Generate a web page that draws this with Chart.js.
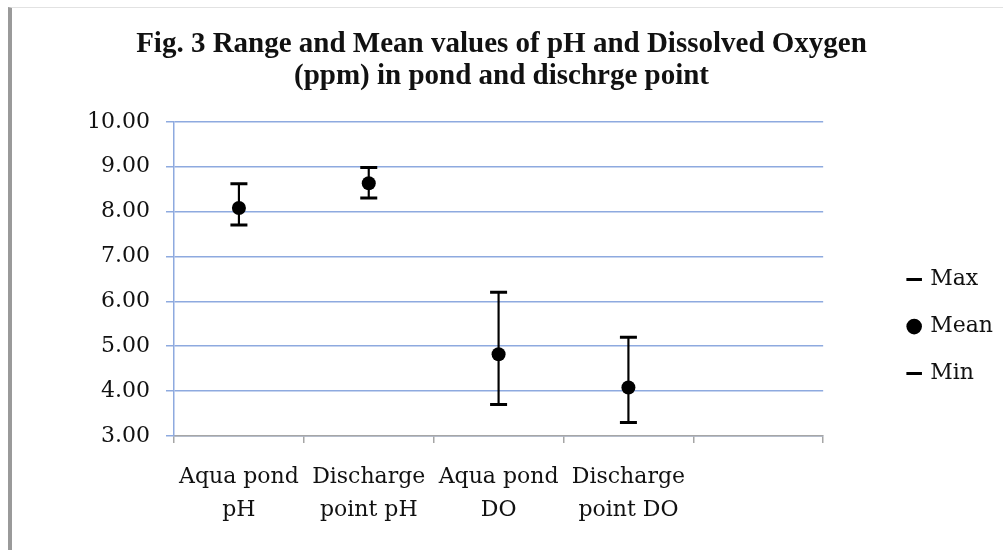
<!DOCTYPE html>
<html>
<head>
<meta charset="utf-8">
<title>Fig. 3 pH and DO</title>
<script src="https://cdn.jsdelivr.net/npm/chart.js@4.4.1/dist/chart.umd.min.js"></script>
<style>
  html, body { margin: 0; padding: 0; background: #fff; }
  #frame {
    position: absolute; left: 8px; top: 7px; width: 995px; height: 543px;
    border-left: 4px solid #9a9a9a; border-top: 1px solid #e2e2e2; box-sizing: border-box;
  }
  #wrap { position: absolute; left: 0; top: 0; width: 1003px; height: 550px; }
</style>
</head>
<body>
<div id="frame"></div>
<div id="wrap"><canvas id="chart" width="1003" height="550"></canvas></div>
<script>
// categories (last slot is empty in the original)
const categories = [['Aqua pond', 'pH'], ['Discharge', 'point pH'], ['Aqua pond', 'DO'], ['Discharge', 'point DO'], ''];
const maxVals = [8.62, 8.98, 6.2, 5.2];
const meanVals = [8.08, 8.63, 4.82, 4.08];
const minVals = [7.7, 8.3, 3.7, 3.3];
const yTicks = [3, 4, 5, 6, 7, 8, 9, 10];

const rangeVals = minVals.map((v, i) => [v, maxVals[i]]);

const serif = '"DejaVu Serif", "Liberation Serif", serif';
const gridBlue = '#8eaadf';

const ctx = document.getElementById('chart').getContext('2d');
const chart = new Chart(ctx, {
    data: {
        labels: categories,
        datasets: [
            { type: 'line', label: 'Max', data: maxVals, showLine: false, pointStyle: 'line',
              pointRadius: 8.5, pointBorderWidth: 3, pointBorderColor: '#000', pointBackgroundColor: '#000', order: 0 },
            { type: 'line', label: 'Mean', data: meanVals, showLine: false, pointStyle: 'circle',
              pointRadius: 7, pointBorderWidth: 0, pointBorderColor: '#000', pointBackgroundColor: '#000', order: 0 },
            { type: 'line', label: 'Min', data: minVals, showLine: false, pointStyle: 'line',
              pointRadius: 8.5, pointBorderWidth: 3, pointBorderColor: '#000', pointBackgroundColor: '#000', order: 0 },
            { type: 'bar', label: 'range', data: rangeVals, backgroundColor: '#000', borderWidth: 0,
              barThickness: 1.5, order: 1 }
        ]
    },
    options: {
        responsive: false,
        animation: false,
        layout: { padding: { left: 0, right: 0, top: 0, bottom: 5 } },
        plugins: {
            tooltip: { enabled: false },
            title: {
                display: true,
                text: ['Fig. 3 Range and Mean values of pH and Dissolved Oxygen', '(ppm) in pond and dischrge point'],
                color: '#111',
                font: { family: '"Liberation Serif", serif', size: 29, weight: 'bold', lineHeight: 1.1 },
                padding: { top: 29, bottom: 29 }
            },
            legend: {
                position: 'right',
                align: 'center',
                fullSize: false,
                title: { display: true, text: '', padding: { top: 41, bottom: 40 } },
                labels: {
                    usePointStyle: true,
                    boxWidth: 10,
                    boxHeight: 11,
                    padding: 25,
                    color: '#111',
                    font: { family: serif, size: 22 },
                    filter: item => item.text !== 'range'
                }
            }
        },
        scales: {
            x: {
                offset: true,
                grid: { drawOnChartArea: false, offset: true, tickLength: 7, color: '#a6a6a6', lineWidth: 1.5 },
                border: { color: '#a6a6a6', width: 1.5 },
                ticks: { color: '#111', padding: 18, maxRotation: 0, autoSkip: false,
                         font: { family: serif, size: 22, lineHeight: 1.5 } }
            },
            y: {
                min: yTicks[0],
                max: yTicks[yTicks.length - 1],
                afterBuildTicks: scale => { scale.ticks = yTicks.map(v => ({ value: v })); },
                afterFit: scale => { scale.width = 174; },
                grid: { color: gridBlue, lineWidth: 1.5, tickLength: 8 },
                border: { color: gridBlue, width: 1.5 },
                ticks: { color: '#111', padding: 16, font: { family: serif, size: 22 },
                         callback: v => Number(v).toFixed(2) }
            },
            y2: {
                position: 'right',
                display: true,
                grid: { display: false },
                border: { display: false },
                ticks: { display: false },
                afterFit: scale => { scale.width = 61; }
            }
        }
    }
});
</script>
</body>
</html>
